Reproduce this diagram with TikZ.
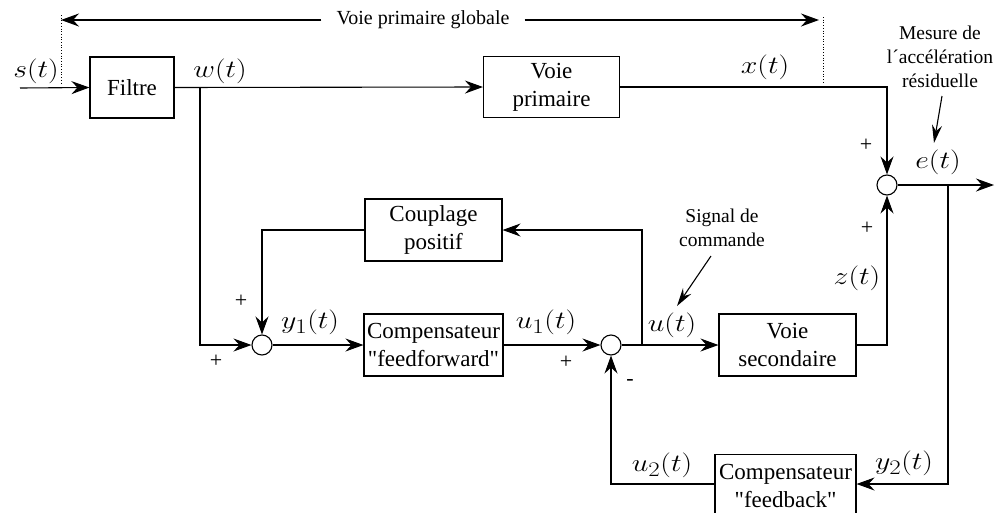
\documentclass[tikz,border=0pt]{standalone}
\usepackage{fontspec}
\setmainfont{Liberation Serif}[Ligatures=TeXOff]
\usepackage{graphicx}
\usetikzlibrary{arrows.meta}
\newcommand{\lbl}[1]{\scalebox{1.2}[1]{\fontsize{24.88}{25}\selectfont$#1$}}
\tikzset{
  blk/.style={draw, line width=1.1pt, rectangle, align=center, font=\fontsize{23}{28}\selectfont, inner sep=0pt},
  sumc/.style={draw, line width=1.1pt, circle, minimum size=20pt, inner sep=0pt},
  arr/.style={line width=1.1pt, -{Stealth[length=18pt,width=13pt,inset=6pt]}},
  sml/.style={font=\fontsize{19.5}{24}\selectfont, align=center, inner sep=0pt},
  sgn/.style={font=\fontsize{22}{22}\selectfont, inner sep=0pt},
  dotl/.style={line width=0.7pt, dotted},
  math/.style={inner sep=0pt}
}
\begin{document}
\begin{tikzpicture}[x=1pt,y=-1pt]
\useasboundingbox (0,0) rectangle (997,512);
% blocks
\node[blk, minimum width=84pt, minimum height=61pt] (filtre) at (132,87.5) {Filtre};
\node[blk, minimum width=136pt, minimum height=61pt] (vp) at (551.5,87) {Voie\\primaire};
\node[blk, minimum width=137pt, minimum height=62pt] (coup) at (433.5,230) {Couplage\\positif};
\node[blk, minimum width=139pt, minimum height=62pt] (ff) at (433.5,345) {Compensateur\\"feedforward"};
\node[blk, minimum width=137pt, minimum height=62pt] (vs) at (787.5,345) {Voie\\secondaire};
\node[blk, minimum width=141pt, minimum height=62pt, anchor=north] (fb) at (785.5,454) {Compensateur\\"feedback"};
% sums
\node[sumc] (s1) at (262,345) {};
\node[sumc] (s2) at (611,345) {};
\node[sumc] (se) at (887,185) {};
% coordinates
\coordinate (in) at (20,88);
\coordinate (w) at (200,88);
\coordinate (ub) at (642,345);
\coordinate (eb) at (948,185);
\coordinate (out) at (994,185);
\coordinate (gl) at (61,20);
\coordinate (gr) at (819,20);
% connectors
\draw[arr] (in) -- (filtre.west);
\draw[arr] (filtre.east) -- (vp.west);
\draw[arr] (w) |- (s1.west);
\draw[arr] (vp.east) -| (se.north);
\draw[arr] (se.east) -- (out);
\draw[arr] (eb) |- (fb.east |- 0,484);
\draw[arr] (fb.west |- 0,484) -| (s2.south);
\draw[arr] (s2.east) -- (vs.west);
\draw[arr] (ub) |- (coup.east);
\draw[arr] (coup.west) -| (s1.north);
\draw[arr] (s1.east) -- (ff.west);
\draw[arr] (ff.east) -- (s2.west);
\draw[arr] (vs.east) -| (se.south);
% global path
\node[sml, inner xsep=15pt, font=\fontsize{20}{24}\selectfont] (gvp) at (423,20) {Voie primaire globale};
\draw[arr] (gvp.west) -- (gl);
\draw[arr] (gvp.east) -- (gr);
\coordinate (d1a) at (61,15); \coordinate (d1b) at (61,84);
\coordinate (d2a) at (823,17); \coordinate (d2b) at (823,84);
\draw[dotl] (d1a) -- (d1b);
\draw[dotl] (d2a) -- (d2b);
% annotations
\node[sml] (mes) at (940,57) {Mesure de\\l\char"00B4 accélération\\résiduelle};
\coordinate (mtip) at (934,143);
\draw[line width=1.1pt, -{Stealth[length=18pt,width=10pt,inset=6pt]}] (942,96) -- (mtip);
\node[sml] (sig) at (722,228) {Signal de\\commande};
\coordinate (stip) at (677,306);
\draw[line width=1.1pt, -{Stealth[length=18pt,width=10pt,inset=6pt]}] (711,256) -- (stip);
% labels
\node[math] (ls) at (36,71) {\lbl{s(t)}};
\node[math] (lw) at (220,71) {\lbl{w(t)}};
\node[math] (lx) at (765,67) {\lbl{x(t)}};
\node[math] (le) at (938,162) {\lbl{e(t)}};
\node[math] (ly1) at (310,322) {\lbl{y_1(t)}};
\node[math] (lu1) at (546,322) {\lbl{u_1(t)}};
\node[math] (lu) at (672,325) {\lbl{u(t)}};
\node[math] (lz) at (857,278) {\lbl{z(t)}};
\node[math] (lu2) at (662,465) {\lbl{u_2(t)}};
\node[math] (ly2) at (904,463) {\lbl{y_2(t)}};
% signs
\node[sgn] (p1) at (866,145) {+};
\node[sgn] (p2) at (867,228) {+};
\node[sgn] (p3) at (241,301) {+};
\node[sgn] (p4) at (216,361) {+};
\node[sgn] (p5) at (566,362) {+};
\node[sgn] (m1) at (630,382) {-};
\end{tikzpicture}
\end{document}
